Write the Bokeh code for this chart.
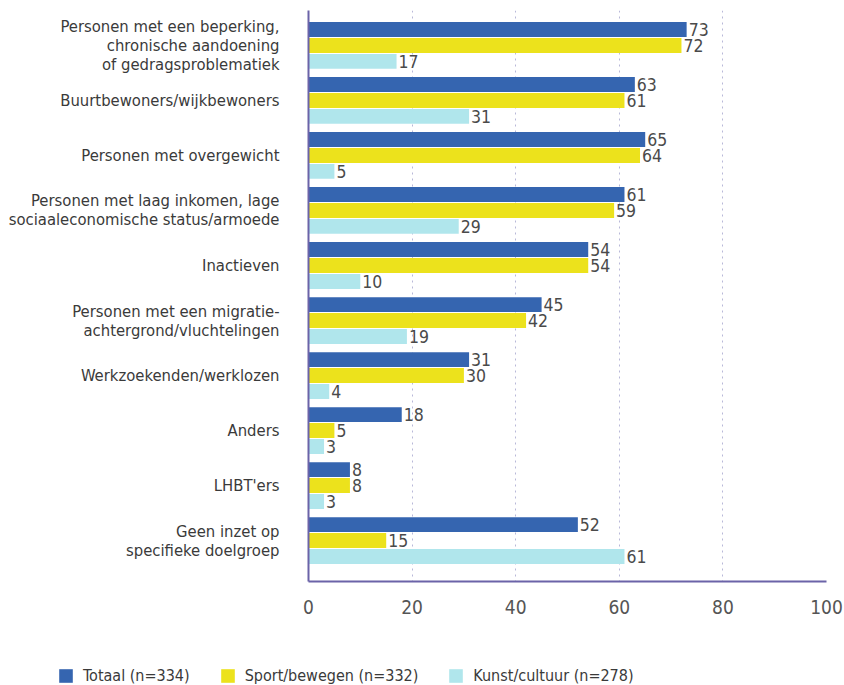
from bokeh.plotting import figure
from bokeh.layouts import column
from bokeh.models import ColumnDataSource, Range1d, FixedTicker, Legend, LegendItem, LabelSet
from bokeh.core.properties import value
from bokeh.embed import file_html
from bokeh.resources import INLINE

categories = [
    "Personen met een beperking,\nchronische aandoening\nof gedragsproblematiek",
    "Buurtbewoners/wijkbewoners",
    "Personen met overgewicht",
    "Personen met laag inkomen, lage\nsociaaleconomische status/armoede",
    "Inactieven",
    "Personen met een migratie-\nachtergrond/vluchtelingen",
    "Werkzoekenden/werklozen",
    "Anders",
    "LHBT'ers",
    "Geen inzet op\nspecifieke doelgroep",
]
totaal = [73, 63, 65, 61, 54, 45, 31, 18, 8, 52]
sport = [72, 61, 64, 59, 54, 42, 30, 5, 8, 15]
kunst = [17, 31, 5, 29, 10, 19, 4, 3, 3, 61]
series_names = ["Totaal (n=334)", "Sport/bewegen (n=332)", "Kunst/cultuur (n=278)"]
x_ticks = [0, 20, 40, 60, 80, 100]

colors = ["#3565b0", "#ece21c", "#b0e6ec"]
offsets = [-0.29, 0.0, 0.29]
FONT = "'DejaVu Sans Condensed', sans-serif"

p = figure(width=844, height=640, output_backend="svg", toolbar_location=None,
           x_range=Range1d(0, 100), y_range=Range1d(9.745, -0.636),
           min_border_left=308, min_border_right=18, min_border_top=10, min_border_bottom=59)
p.frame_align = False
p.outline_line_color = None
p.background_fill_color = "white"
p.border_fill_color = "white"

# legend strip below the chart (shares the same data; its view window shows no bars)
pl = figure(width=844, height=45, output_backend="svg", toolbar_location=None,
            x_axis_type=None, y_axis_type=None, min_border=0,
            x_range=Range1d(0, 100), y_range=Range1d(100, 101))
pl.frame_align = False
pl.outline_line_color = None
pl.grid.grid_line_color = None

idx = list(range(len(categories)))
items = []
for vals, col, off, name in zip([totaal, sport, kunst], colors, offsets, series_names):
    src = ColumnDataSource(dict(y=[i + off for i in idx], right=vals,
                                lab=[str(v) for v in vals]))
    p.hbar(y="y", left=0, right="right", height=0.27, source=src,
           fill_color=col, line_color=None)
    ls = LabelSet(x="right", y="y", text="lab", source=src, x_offset=2, y_offset=0,
                  text_font=value(FONT), text_font_size="17.5px", text_color="#4a4a4a",
                  text_baseline="middle", text_align="left")
    p.add_layout(ls)
    rl = pl.hbar(y="y", left=0, right="right", height=0.27, source=src,
                 fill_color=col, line_color=None)
    items.append(LegendItem(label=name, renderers=[rl]))

# axes
p.xaxis.ticker = FixedTicker(ticks=x_ticks)
p.xaxis.axis_line_color = "#6b63a8"
p.xaxis.axis_line_width = 2
p.xaxis.major_tick_line_color = None
p.xaxis.minor_tick_line_color = None
p.xaxis.major_label_text_font = FONT
p.xaxis.major_label_text_font_size = "19px"
p.xaxis.major_label_text_color = "#555555"
p.xaxis.major_label_standoff = 12

p.yaxis.ticker = FixedTicker(ticks=idx)
p.yaxis.major_label_overrides = {i: c for i, c in enumerate(categories)}
p.yaxis.axis_line_color = "#6b63a8"
p.yaxis.axis_line_width = 2
p.yaxis.major_tick_line_color = None
p.yaxis.minor_tick_line_color = None
p.yaxis.major_label_text_font = FONT
p.yaxis.major_label_text_font_size = "16.5px"
p.yaxis.major_label_text_color = "#3a3a3a"
p.yaxis.major_label_standoff = 23
p.yaxis.major_label_text_line_height = 1.0

p.ygrid.grid_line_color = None
p.xgrid.grid_line_color = "#b8b8d8"
p.xgrid.grid_line_dash = "2 4"
p.xgrid.grid_line_width = 1

legend = Legend(items=items, orientation="horizontal", location=(57, 0),
                padding=0, margin=0, spacing=29, label_standoff=9,
                glyph_width=17, glyph_height=17,
                border_line_color=None, background_fill_alpha=0,
                label_text_font=FONT, label_text_font_size="16px",
                label_text_color="#3a3a3a")
pl.add_layout(legend, "center")

open("out.html", "w").write(file_html(column(p, pl, spacing=0), INLINE))
